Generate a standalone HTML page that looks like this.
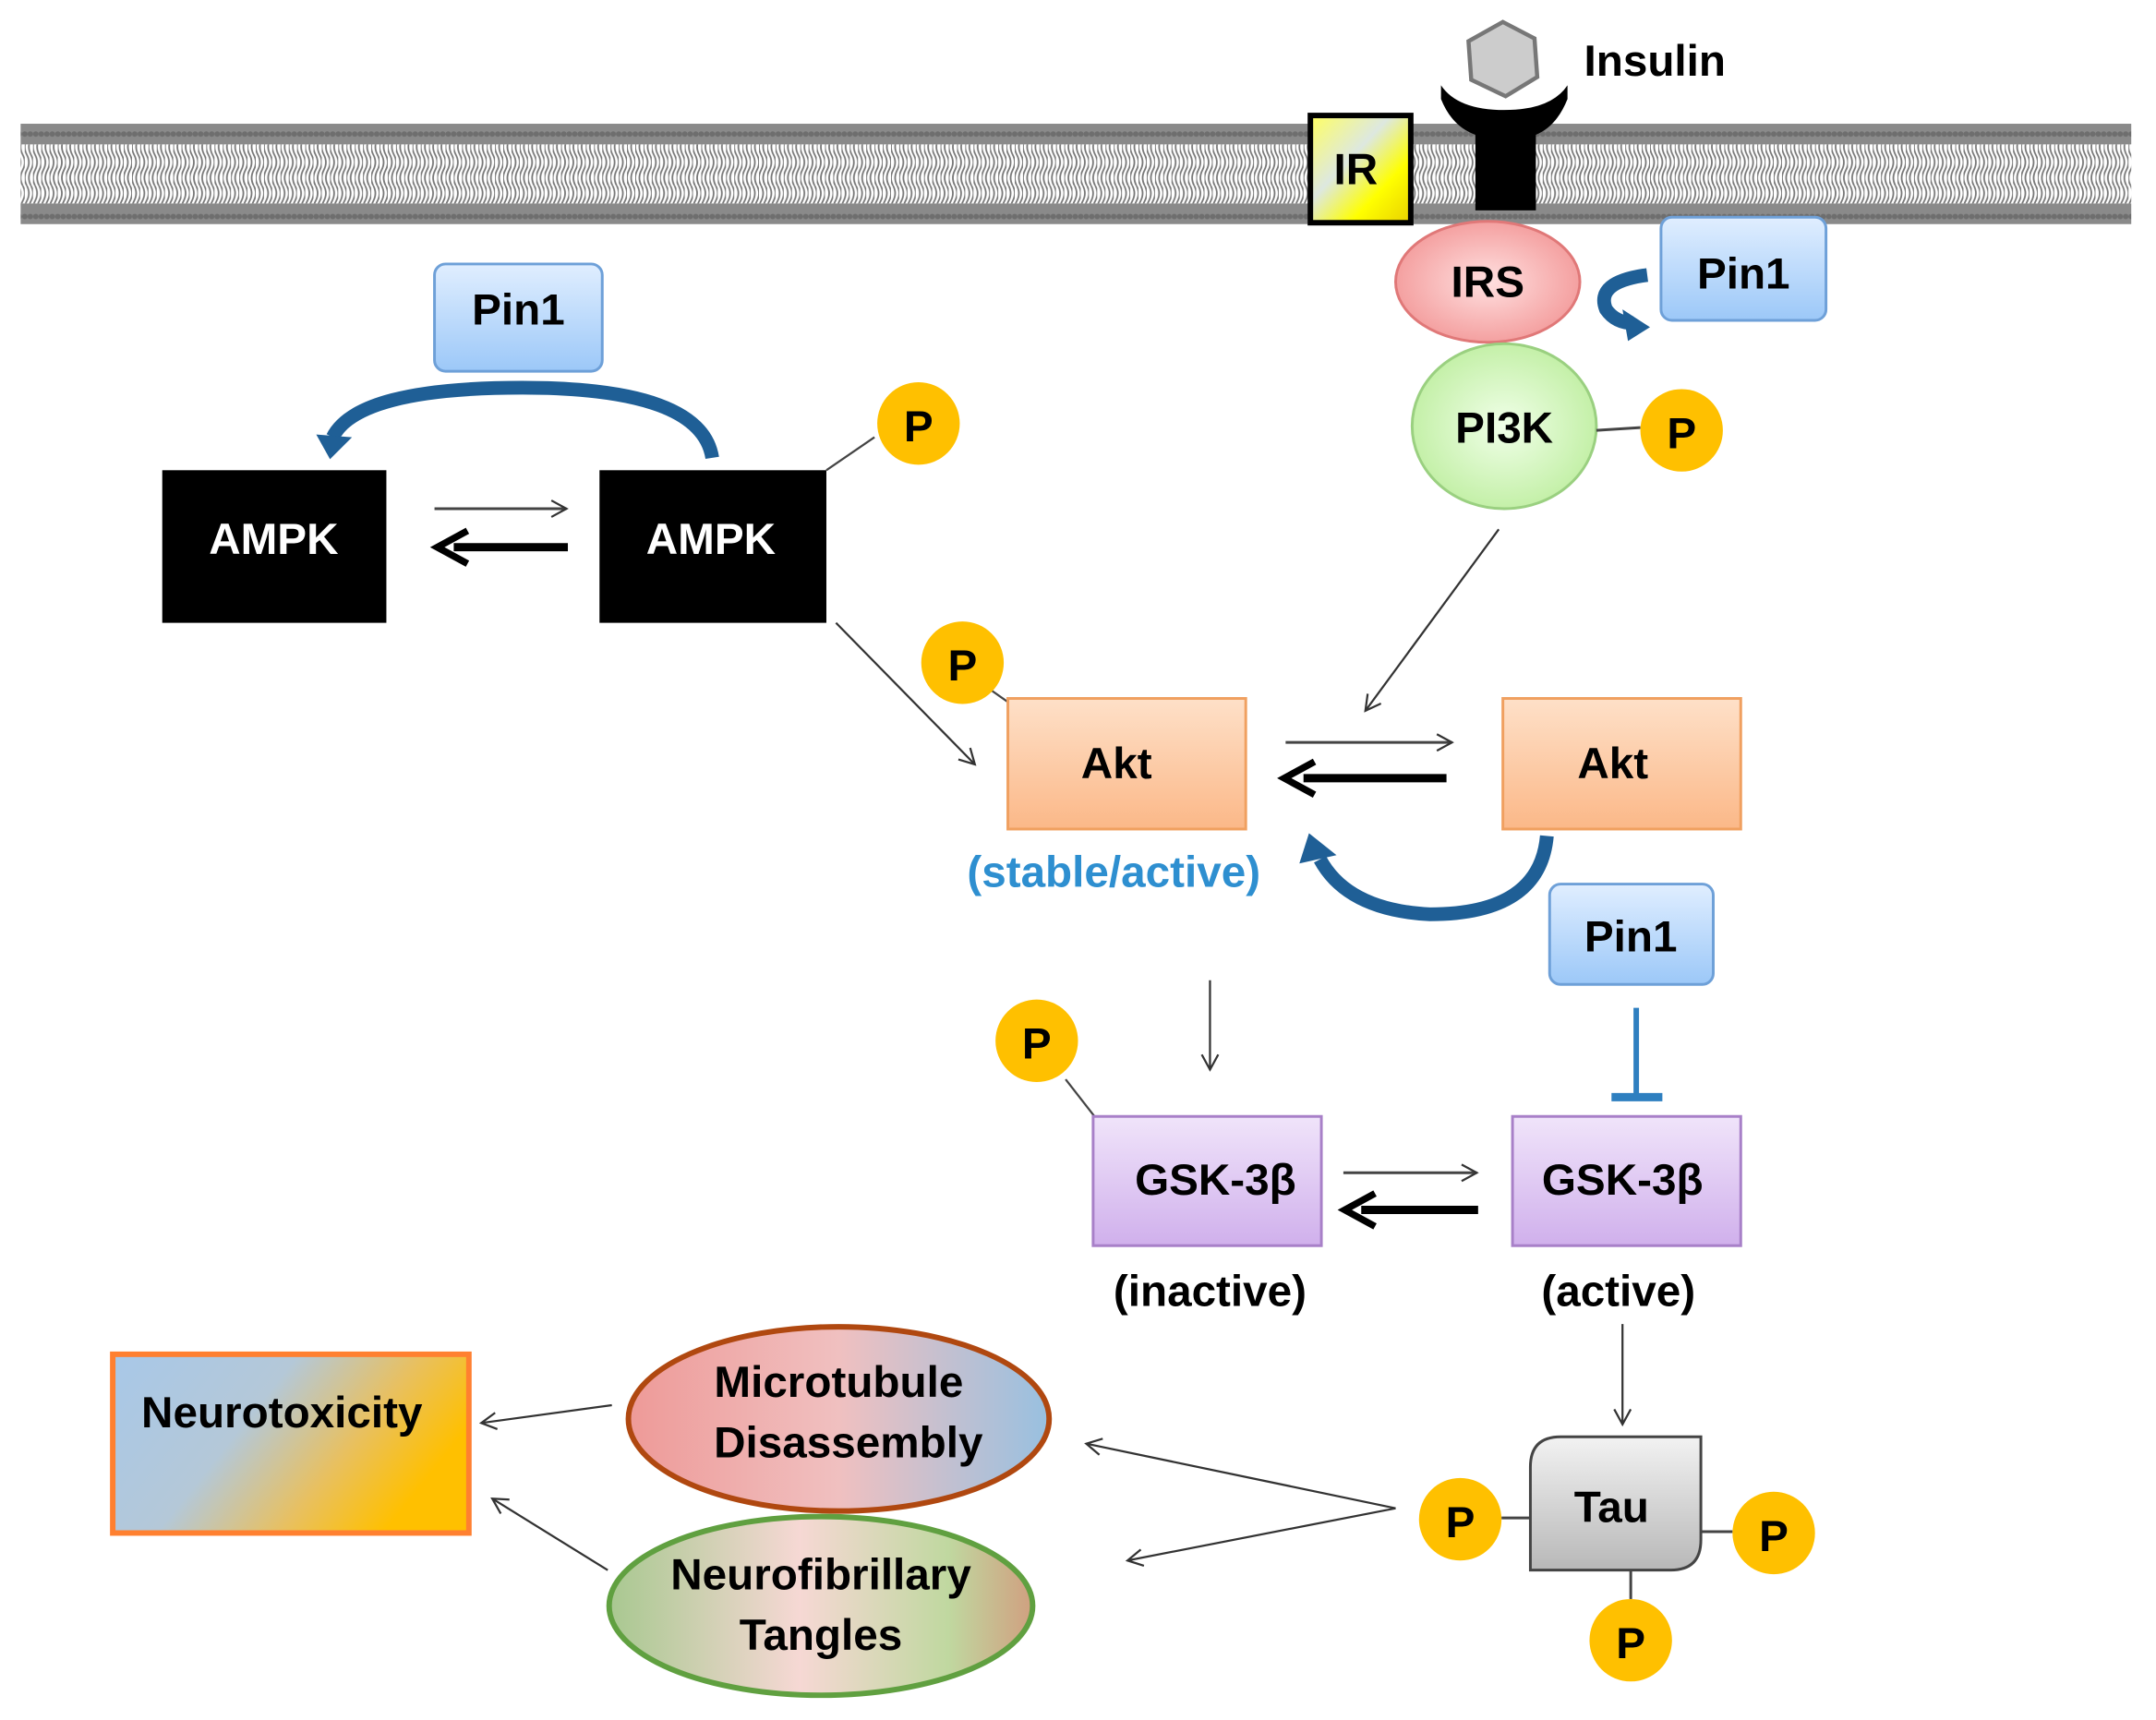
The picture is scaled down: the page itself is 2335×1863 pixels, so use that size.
<!DOCTYPE html>
<html><head><meta charset="utf-8"><style>html,body{margin:0;padding:0;background:#fff}svg{display:block}</style></head>
<body>
<svg width="2335" height="1863" viewBox="0 0 1568 1251" preserveAspectRatio="none" xmlns="http://www.w3.org/2000/svg" font-family="Liberation Sans, Arial, sans-serif" font-weight="bold">
<defs>
<pattern id="tails" width="6" height="45" patternUnits="userSpaceOnUse">
<path d="M1.5 0 Q4.5 5.6 1.5 11.2 Q-1.5 16.8 1.5 22.5 Q4.5 28 1.5 33.7 Q-1.5 39.4 1.5 45" stroke="#777" stroke-width="1.2" fill="none"/>
<path d="M4.5 0 Q7.5 5.6 4.5 11.2 Q1.5 16.8 4.5 22.5 Q7.5 28 4.5 33.7 Q1.5 39.4 4.5 45" stroke="#777" stroke-width="1.2" fill="none"/>
</pattern>
<pattern id="heads" width="4" height="15" patternUnits="userSpaceOnUse">
<rect width="4" height="15" fill="#8a8a8a"/><circle cx="2" cy="7.5" r="2" fill="#6e6e6e"/>
</pattern>
<linearGradient id="ir" x1="0" y1="0" x2="1" y2="1"><stop offset="0" stop-color="#ffff60"/><stop offset="0.4" stop-color="#dde8e0"/><stop offset="0.7" stop-color="#ffff00"/><stop offset="1" stop-color="#e8d000"/></linearGradient>
<linearGradient id="pin" x1="0" y1="0" x2="0" y2="1"><stop offset="0" stop-color="#e0eeff"/><stop offset="1" stop-color="#9cc8f8"/></linearGradient>
<radialGradient id="irs"><stop offset="0" stop-color="#ffe0e0"/><stop offset="1" stop-color="#f4a0a0"/></radialGradient>
<radialGradient id="pi3k"><stop offset="0" stop-color="#f0ffe8"/><stop offset="1" stop-color="#c4f0a8"/></radialGradient>
<linearGradient id="akt" x1="0" y1="0" x2="0" y2="1"><stop offset="0" stop-color="#fee0c8"/><stop offset="1" stop-color="#fbb888"/></linearGradient>
<linearGradient id="gsk" x1="0" y1="0" x2="0" y2="1"><stop offset="0" stop-color="#f0e4fa"/><stop offset="1" stop-color="#d0b0ec"/></linearGradient>
<linearGradient id="tau" x1="0" y1="0" x2="0" y2="1"><stop offset="0" stop-color="#f2f2f2"/><stop offset="1" stop-color="#b8b8b8"/></linearGradient>
<linearGradient id="neuro" x1="0" y1="0" x2="1" y2="0.4"><stop offset="0" stop-color="#a8c8e8"/><stop offset="0.45" stop-color="#b4c8d8"/><stop offset="0.75" stop-color="#e8c060"/><stop offset="1" stop-color="#ffc000"/></linearGradient>
<linearGradient id="micro" x1="0" y1="0" x2="1" y2="0"><stop offset="0" stop-color="#ee9a98"/><stop offset="0.5" stop-color="#f0c0c0"/><stop offset="1" stop-color="#98c0e0"/></linearGradient>
<linearGradient id="nft" x1="0" y1="0" x2="1" y2="0"><stop offset="0" stop-color="#a8c890"/><stop offset="0.45" stop-color="#f6d8d4"/><stop offset="0.8" stop-color="#c0d8a0"/><stop offset="1" stop-color="#d0a080"/></linearGradient>
<marker id="ah" markerWidth="14" markerHeight="14" refX="12" refY="7" orient="auto" markerUnits="userSpaceOnUse"><path d="M1 1 L12 7 L1 13" fill="none" stroke="#333" stroke-width="1.5"/></marker>
</defs>

<rect x="15" y="90" width="1535" height="15" fill="url(#heads)"/>
<rect x="15" y="105" width="1535" height="43" fill="url(#tails)"/>
<rect x="15" y="148" width="1535" height="15" fill="url(#heads)"/>

<rect x="953" y="84" width="73" height="78" fill="url(#ir)" stroke="#000" stroke-width="4"/>
<text x="986" y="134" font-size="32" text-anchor="middle">IR</text>
<path d="M1048 62 Q1060 80 1094 80 Q1128 80 1140 62 L1140 72 Q1132 92 1117 98 L1117 153 L1073 153 L1073 98 Q1056 92 1048 72 Z" fill="#000"/>
<polygon points="1093,16 1116,28 1118,56 1095,70 1070,58 1068,30" fill="#ccc" stroke="#777" stroke-width="3"/>
<text x="1152" y="55" font-size="32">Insulin</text>

<ellipse cx="1082" cy="205" rx="67" ry="44" fill="url(#irs)" stroke="#e07878" stroke-width="2"/>
<text x="1082" y="216" font-size="32" text-anchor="middle">IRS</text>
<rect x="1208" y="158" width="120" height="75" rx="8" fill="url(#pin)" stroke="#6ea0d8" stroke-width="2"/>
<text x="1268" y="210" font-size="32" text-anchor="middle">Pin1</text>
<path d="M1198 200 Q1160 205 1168 225 Q1175 235 1188 235" fill="none" stroke="#1f5f96" stroke-width="10"/>
<path d="M1180 225 L1200 238 L1184 248 Z" fill="#1f5f96"/>

<ellipse cx="1094" cy="310" rx="67" ry="60" fill="url(#pi3k)" stroke="#9ad080" stroke-width="2"/>
<text x="1094" y="322" font-size="32" text-anchor="middle">PI3K</text>
<line x1="1161" y1="313" x2="1193" y2="311" stroke="#444" stroke-width="2"/>
<circle cx="1223" cy="313" r="30" fill="#ffc000"/>
<text x="1223" y="326" font-size="32" text-anchor="middle">P</text>
<line x1="1090" y1="385" x2="993" y2="517" stroke="#333" stroke-width="1.5" marker-end="url(#ah)"/>

<rect x="316" y="192" width="122" height="78" rx="8" fill="url(#pin)" stroke="#6ea0d8" stroke-width="2"/>
<text x="377" y="236" font-size="32" text-anchor="middle">Pin1</text>
<path d="M518 333 Q510 282 380 282 Q260 282 242 318" fill="none" stroke="#1f5f96" stroke-width="10"/>
<path d="M230 316 L256 318 L240 334 Z" fill="#1f5f96"/>
<rect x="118" y="342" width="163" height="111" fill="#000"/>
<text x="199" y="403" font-size="32" text-anchor="middle" fill="#fff">AMPK</text>
<rect x="436" y="342" width="165" height="111" fill="#000"/>
<text x="517" y="403" font-size="32" text-anchor="middle" fill="#fff">AMPK</text>
<line x1="601" y1="342" x2="636" y2="318" stroke="#444" stroke-width="1.5"/>
<circle cx="668" cy="308" r="30" fill="#ffc000"/>
<text x="668" y="321" font-size="32" text-anchor="middle">P</text>
<line x1="316" y1="370" x2="412" y2="370" stroke="#444" stroke-width="2" marker-end="url(#ah)"/>
<line x1="330" y1="398" x2="413" y2="398" stroke="#000" stroke-width="6"/>
<path d="M340 386 L318 398 L340 410" fill="none" stroke="#000" stroke-width="5"/>
<line x1="608" y1="453" x2="709" y2="556" stroke="#333" stroke-width="1.5" marker-end="url(#ah)"/>

<line x1="718" y1="500" x2="735" y2="512" stroke="#444" stroke-width="1.5"/>
<circle cx="700" cy="482" r="30" fill="#ffc000"/>
<text x="700" y="495" font-size="32" text-anchor="middle">P</text>
<rect x="733" y="508" width="173" height="95" fill="url(#akt)" stroke="#f0a060" stroke-width="2"/>
<text x="812" y="566" font-size="32" text-anchor="middle">Akt</text>
<rect x="1093" y="508" width="173" height="95" fill="url(#akt)" stroke="#f0a060" stroke-width="2"/>
<text x="1173" y="566" font-size="32" text-anchor="middle">Akt</text>
<line x1="935" y1="540" x2="1056" y2="540" stroke="#444" stroke-width="2" marker-end="url(#ah)"/>
<line x1="948" y1="566" x2="1052" y2="566" stroke="#000" stroke-width="6"/>
<path d="M956 554 L934 566 L956 578" fill="none" stroke="#000" stroke-width="5"/>
<text x="810" y="645" font-size="32" text-anchor="middle" fill="#2e8fd0" font-weight="bold">(stable/active)</text>
<path d="M1125 608 Q1120 665 1040 665 Q980 662 960 625" fill="none" stroke="#1f5f96" stroke-width="10"/>
<path d="M945 628 L952 606 L972 622 Z" fill="#1f5f96"/>
<rect x="1127" y="643" width="119" height="73" rx="8" fill="url(#pin)" stroke="#6ea0d8" stroke-width="2"/>
<text x="1186" y="692" font-size="32" text-anchor="middle">Pin1</text>
<line x1="1190" y1="733" x2="1190" y2="797" stroke="#2e7fc0" stroke-width="4"/>
<line x1="1172" y1="798" x2="1209" y2="798" stroke="#2e7fc0" stroke-width="6"/>
<line x1="880" y1="713" x2="880" y2="778" stroke="#333" stroke-width="1.5" marker-end="url(#ah)"/>

<line x1="775" y1="785" x2="796" y2="812" stroke="#444" stroke-width="1.5"/>
<circle cx="754" cy="757" r="30" fill="#ffc000"/>
<text x="754" y="770" font-size="32" text-anchor="middle">P</text>
<rect x="795" y="812" width="166" height="94" fill="url(#gsk)" stroke="#a880c8" stroke-width="2"/>
<text x="884" y="869" font-size="32" text-anchor="middle">GSK-3β</text>
<rect x="1100" y="812" width="166" height="94" fill="url(#gsk)" stroke="#a880c8" stroke-width="2"/>
<text x="1180" y="869" font-size="32" text-anchor="middle">GSK-3β</text>
<line x1="977" y1="853" x2="1074" y2="853" stroke="#444" stroke-width="2" marker-end="url(#ah)"/>
<line x1="990" y1="880" x2="1075" y2="880" stroke="#000" stroke-width="6"/>
<path d="M1000 868 L978 880 L1000 892" fill="none" stroke="#000" stroke-width="5"/>
<text x="880" y="950" font-size="32" text-anchor="middle">(inactive)</text>
<text x="1177" y="950" font-size="32" text-anchor="middle">(active)</text>
<line x1="1180" y1="963" x2="1180" y2="1036" stroke="#333" stroke-width="1.5" marker-end="url(#ah)"/>

<line x1="1092" y1="1104" x2="1114" y2="1104" stroke="#444" stroke-width="2"/>
<line x1="1237" y1="1114" x2="1260" y2="1114" stroke="#444" stroke-width="2"/>
<line x1="1186" y1="1142" x2="1186" y2="1163" stroke="#444" stroke-width="2"/>
<path d="M1135 1045 L1237 1045 L1237 1120 Q1237 1142 1215 1142 L1113 1142 L1113 1067 Q1113 1045 1135 1045 Z" fill="url(#tau)" stroke="#444" stroke-width="2"/>
<text x="1172" y="1107" font-size="32" text-anchor="middle">Tau</text>
<circle cx="1062" cy="1105" r="30" fill="#ffc000"/>
<text x="1062" y="1118" font-size="32" text-anchor="middle">P</text>
<circle cx="1290" cy="1115" r="30" fill="#ffc000"/>
<text x="1290" y="1128" font-size="32" text-anchor="middle">P</text>
<circle cx="1186" cy="1193" r="30" fill="#ffc000"/>
<text x="1186" y="1206" font-size="32" text-anchor="middle">P</text>
<line x1="1015" y1="1097" x2="790" y2="1050" stroke="#333" stroke-width="1.5" marker-end="url(#ah)"/>
<line x1="1015" y1="1097" x2="820" y2="1135" stroke="#333" stroke-width="1.5" marker-end="url(#ah)"/>

<ellipse cx="610" cy="1032" rx="153" ry="67" fill="url(#micro)" stroke="#b04810" stroke-width="4"/>
<text x="610" y="1016" font-size="32" text-anchor="middle">Microtubule</text>
<text x="617" y="1060" font-size="32" text-anchor="middle">Disassembly</text>
<ellipse cx="597" cy="1168" rx="154" ry="65" fill="url(#nft)" stroke="#60a040" stroke-width="4"/>
<text x="597" y="1156" font-size="32" text-anchor="middle">Neurofibrillary</text>
<text x="597" y="1200" font-size="32" text-anchor="middle">Tangles</text>
<rect x="82" y="985" width="259" height="130" fill="url(#neuro)" stroke="#ff8030" stroke-width="4"/>
<text x="205" y="1038" font-size="32" text-anchor="middle">Neurotoxicity</text>
<line x1="445" y1="1022" x2="350" y2="1035" stroke="#333" stroke-width="1.5" marker-end="url(#ah)"/>
<line x1="442" y1="1142" x2="358" y2="1090" stroke="#333" stroke-width="1.5" marker-end="url(#ah)"/>
</svg>
</body></html>
